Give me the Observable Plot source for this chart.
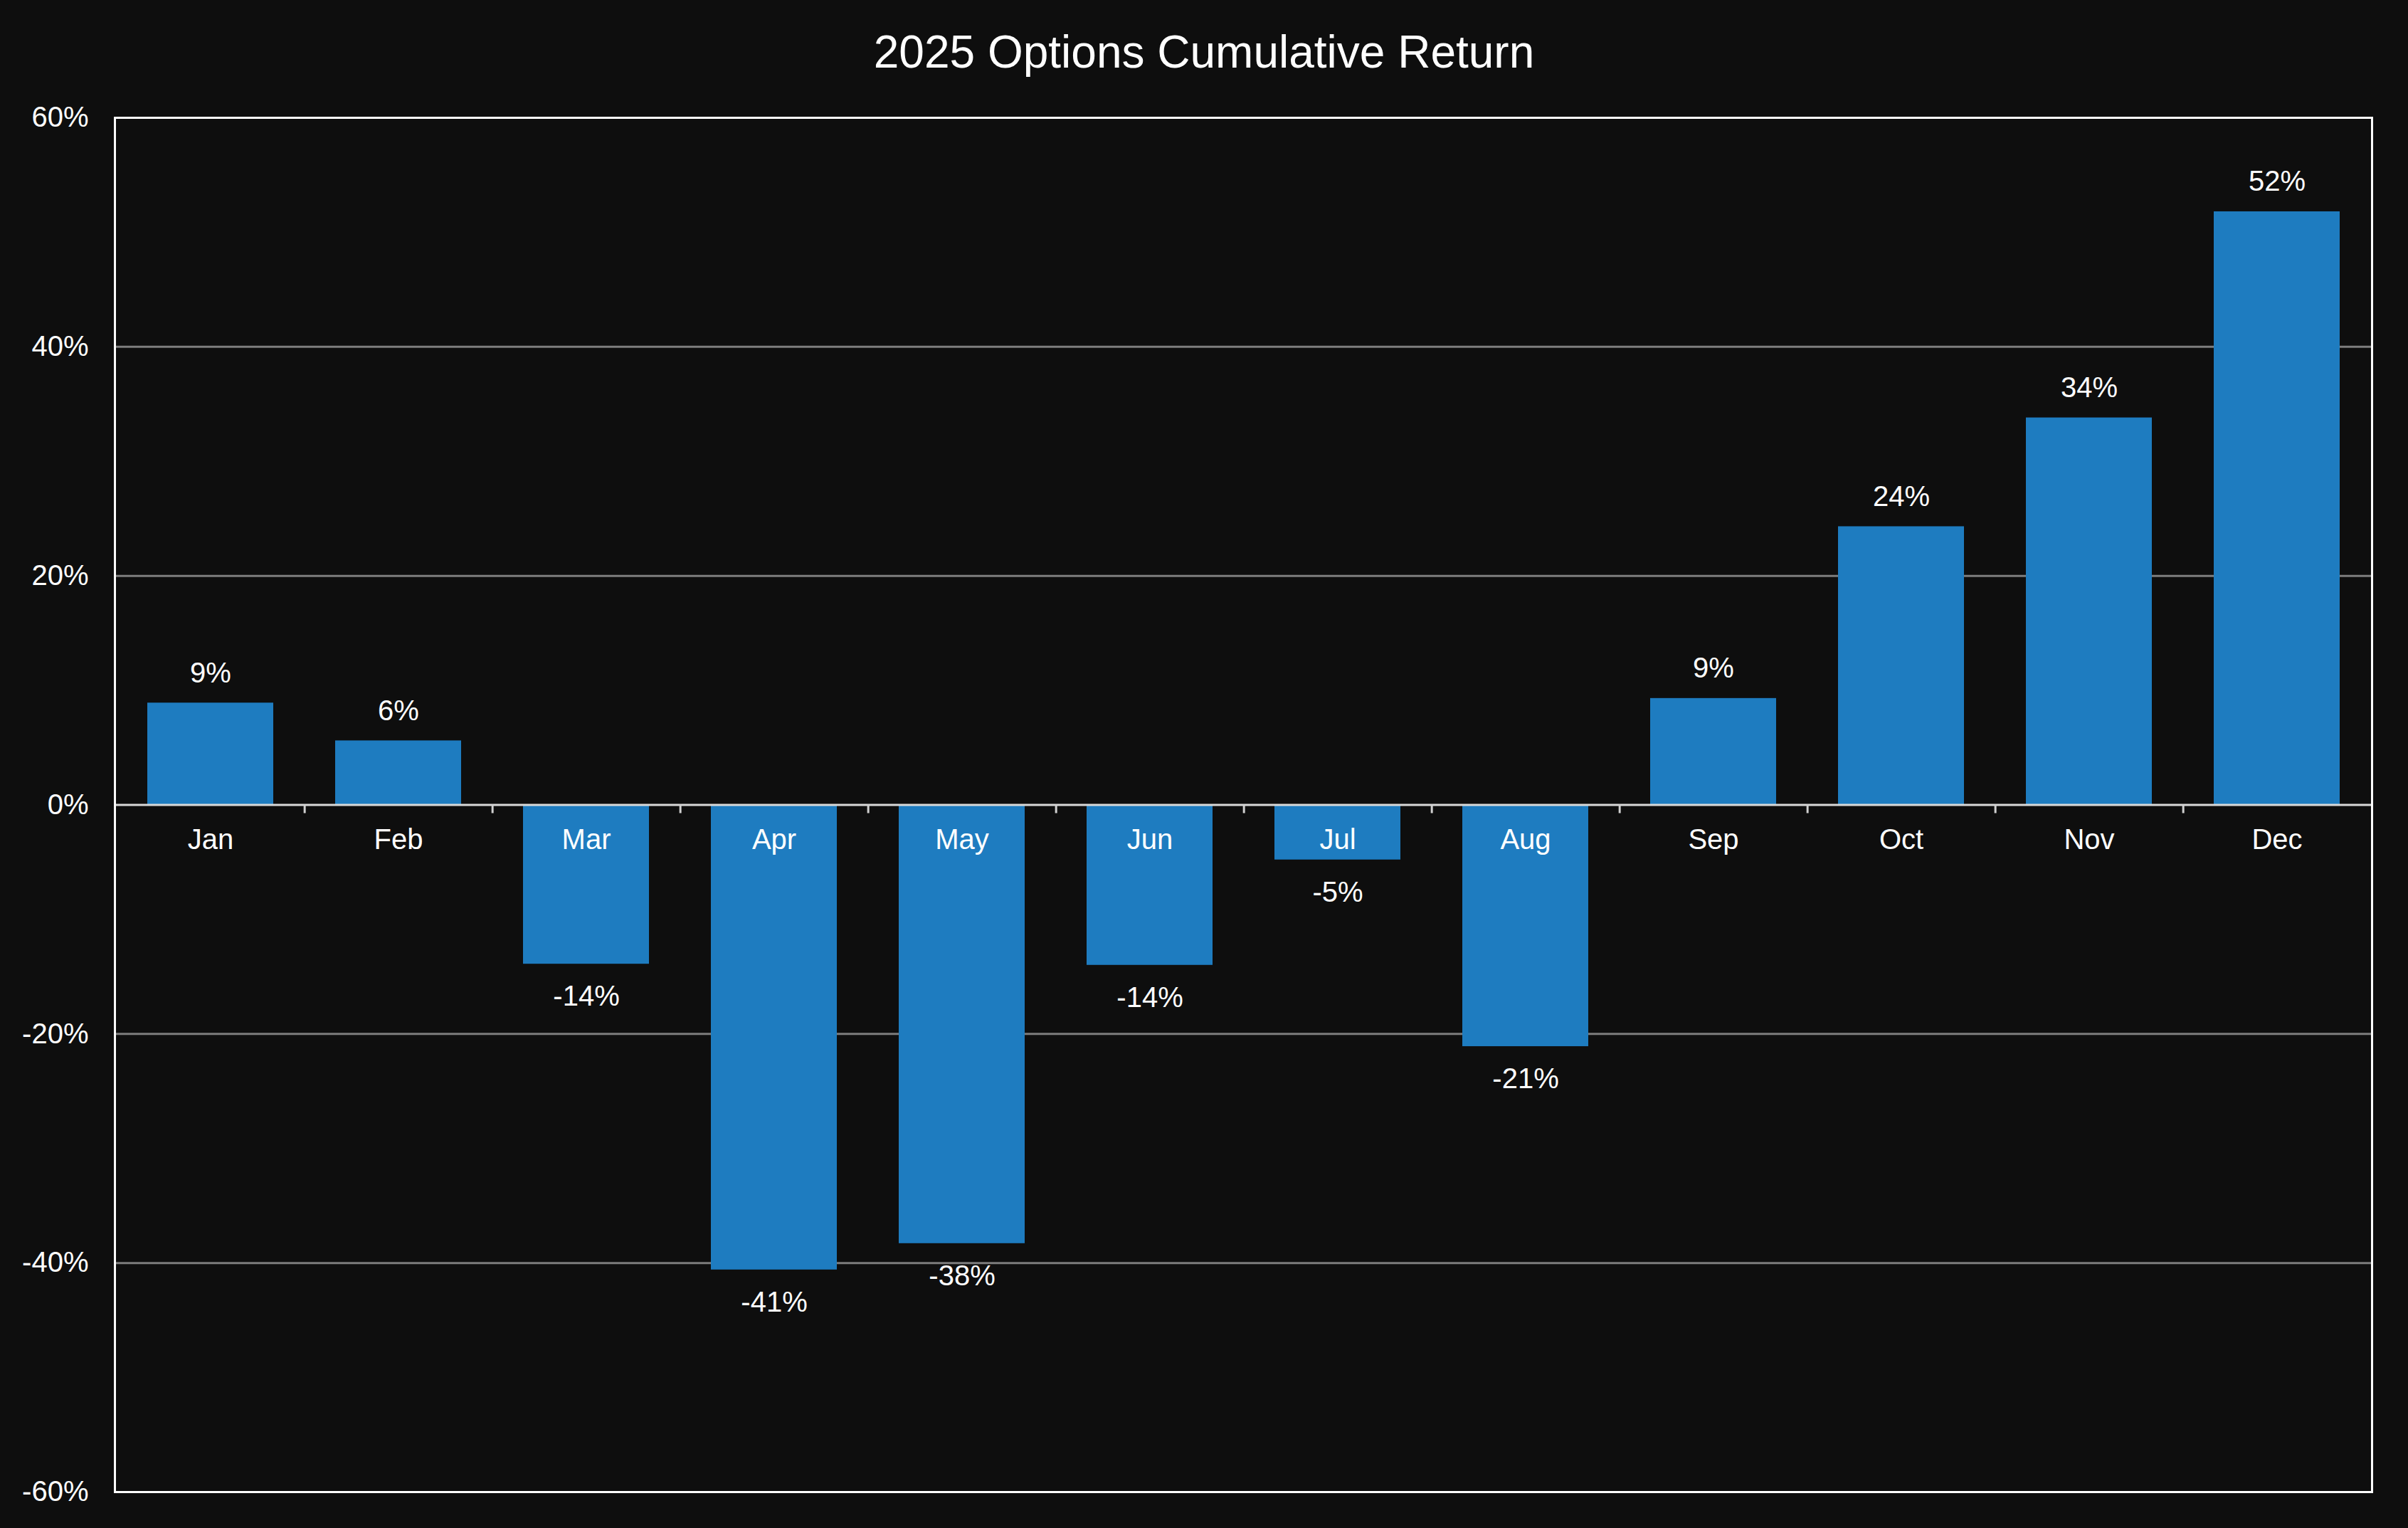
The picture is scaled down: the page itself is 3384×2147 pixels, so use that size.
<!DOCTYPE html>
<html>
<head>
<meta charset="utf-8">
<script src="https://cdn.jsdelivr.net/npm/d3@7"></script>
<script src="https://cdn.jsdelivr.net/npm/@observablehq/plot@0.6"></script>
<style>
  html, body { margin: 0; padding: 0; background: #0e0e0e; }
  #wrap { position: relative; width: 3384px; height: 2147px; background: #0e0e0e; font-family: "Liberation Sans", Arial, Helvetica, sans-serif; }
  #title { position: absolute; left: 0; top: 0; width: 3384px; height: 146px; line-height: 146px; text-align: center; color: #ffffff; font-size: 64px; font-family: "Liberation Sans", Arial, Helvetica, sans-serif; z-index: 2; }
  #chart { position: absolute; left: 0; top: 0; }
</style>
</head>
<body>
<div id="wrap">
  <div id="chart"></div>
  <div id="title">2025 Options Cumulative Return</div>
</div>
<script>
const months = ["Jan", "Feb", "Mar", "Apr", "May", "Jun", "Jul", "Aug", "Sep", "Oct", "Nov", "Dec"];
const returns = [8.9, 5.6, -13.9, -40.6, -38.3, -14.0, -4.8, -21.1, 9.3, 24.3, 33.8, 51.8];
const yTicks = [-60, -40, -20, 0, 20, 40, 60];
const gridLines = [-40, -20, 20, 40];

const data = months.map((m, i) => ({month: m, value: returns[i]}));
const boundaries = months.slice(0, -1);

const W = 3384, H = 2147;
const mL = 161, mR = 51, mT = 165, mB = 51;
const step = (W - mL - mR) / months.length;
const fmt = v => `${Math.round(v)}%`;

const chart = Plot.plot({
  width: W,
  height: H,
  marginLeft: mL,
  marginRight: mR,
  marginTop: mT,
  marginBottom: mB,
  style: {background: "#0e0e0e", color: "#ffffff", fontFamily: "'Liberation Sans', Arial, Helvetica, sans-serif"},
  x: {type: "band", domain: months, paddingInner: 0.33, paddingOuter: 0.165, align: 0.5, axis: null},
  y: {domain: [-60, 60], axis: null},
  marks: [
    Plot.ruleY(gridLines, {stroke: "#7d7d7d", strokeWidth: 3}),
    Plot.barY(data, {x: "month", y: "value", fill: "#1e7cc0"}),
    Plot.ruleY([0], {stroke: "#d9d9d9", strokeWidth: 3}),
    Plot.ruleX(boundaries, {x: d => d, y1: () => 0, y2: () => 0, dx: step / 2, insetBottom: -12, stroke: "#d0d0d0", strokeWidth: 3}),
    Plot.text(months, {x: d => d, y: () => 0, text: d => d, fill: "#ffffff", fontSize: 40, lineAnchor: "middle", dy: 49}),
    Plot.text(data.filter(d => d.value >= 0), {x: "month", y: "value", text: d => fmt(d.value), fill: "#ffffff", fontSize: 40, lineAnchor: "bottom", dy: -29}),
    Plot.text(data.filter(d => d.value < 0), {x: "month", y: "value", text: d => fmt(d.value), fill: "#ffffff", fontSize: 40, lineAnchor: "top", dy: 30}),
    Plot.axisY({ticks: yTicks, tickFormat: d => `${d}%`, tickSize: 0, tickPadding: 37, fontSize: 40, fill: "#ffffff", label: null}),
    Plot.frame({stroke: "#ffffff", strokeWidth: 3})
  ]
});
document.getElementById("chart").appendChild(chart);
</script>
</body>
</html>
